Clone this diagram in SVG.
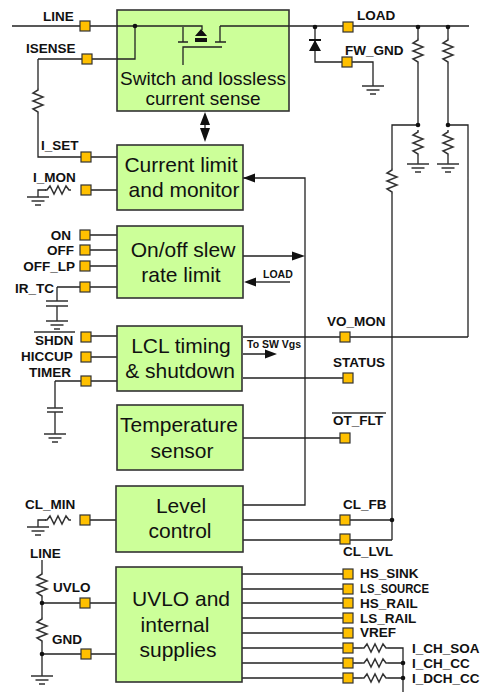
<svg xmlns="http://www.w3.org/2000/svg" width="483" height="692" viewBox="0 0 483 692">
<style>
.b{fill:#ccff99;stroke:#333;stroke-width:1.6}
.t{fill:#ffc000;stroke:#333;stroke-width:1.2}
.w{fill:none;stroke:#222;stroke-width:1.3}
.g{fill:none;stroke:#333;stroke-width:1.5}
.l{font-family:"Liberation Sans",Arial,sans-serif;font-size:13.5px;font-weight:bold;fill:#111}
.s{font-family:"Liberation Sans",Arial,sans-serif;font-size:10.5px;font-weight:bold;fill:#111}
.n{font-family:"Liberation Sans",Arial,sans-serif;font-size:21px;fill:#111;text-anchor:middle}
.n2{font-size:19px}
.f{fill:#111}
.m{text-anchor:end}
</style>
<defs>
<polyline id="rv" class="g" points="0,0 0,2 -5,5 5,9 -5,13 5,17 -5,21 0,24 0,26"/>
<polyline id="rh" class="g" points="0,0 2,0 5,-4 9,4 13,-4 17,4 21,-4 24,0 26,0"/>
<g id="gnd" class="g"><path d="M-11,0H11M-6.500,4H6.500M-3,8H3"/></g>
</defs>
<rect width="483" height="692" fill="#fff"/>
<g id="connectors">
<path class="w" d="M12,26H117M289,26H469M38,59H117M38,59V88M38,114V157H117M91,190H117M46,190H38V197"/>
<path class="w" d="M315,27V62H373V86"/>
<path class="w" d="M418,27V38M418,64V125M418,156V164M448,27V38M448,64V125M448,156V164M392,168V125H418M448,125H468V337M392,194V540M243,178H305V505H243M243,520H392M243,540H392"/>
<path class="w" d="M85,235H117M85,250H117M85,266H117M57,287H117M57,287V301M57,306V321M86,336H117M86,357H117M55,381H117M55,381V408M55,412V434M243,256H292M243,337H468M243,378H348M243,438H345M243,354H265"/>
<path class="w" d="M42,560V572M42,598V617M42,603H116M42,643V676M42,654H116M90,520H116M46,520H38V527"/>
<path class="w" d="M242,574H348M242,589H348M242,603H348M242,618H348M242,633H348M242,648H362M242,663H362M242,678H362M388,648H403V692M388,663H403M388,678H403"/>
<path class="g" d="M290,282H254"/>
<path class="f" d="M243,178L255,173.500V182.500ZM305,256L292,251.500V260.500ZM244,282L256,277.500V286.500ZM277,354L265,349.500V358.500ZM205,112L210,125H200ZM205,142L200,128H210Z"/>
<path class="f" d="M315,40L321,51H309ZM309,39H321V41H309Z"/>
<path class="w" d="M205,125V128"/>
<use href="#rv" x="38" y="88"/><use href="#rv" x="418" y="38"/><use href="#rv" x="448" y="38"/>
<use href="#rv" x="418" y="130"/><use href="#rv" x="448" y="130"/><use href="#rv" x="392" y="168"/>
<use href="#rv" x="42" y="572"/><use href="#rv" x="42" y="617"/>
<use href="#rh" x="45" y="190"/><use href="#rh" x="45" y="520"/>
<use href="#rh" x="362" y="648"/><use href="#rh" x="362" y="663"/><use href="#rh" x="362" y="678"/>
<use href="#gnd" x="38" y="197"/><use href="#gnd" x="373" y="86"/><use href="#gnd" x="418" y="164"/><use href="#gnd" x="448" y="164"/>
<use href="#gnd" x="57" y="321"/><use href="#gnd" x="55" y="434"/><use href="#gnd" x="38" y="527"/><use href="#gnd" x="42" y="676"/>
<path class="g" d="M46,301H68M46,306H68M47,408H63M47,412H63"/>
<circle class="f" cx="315" cy="27" r="2.300"/><circle class="f" cx="418" cy="27" r="2.300"/><circle class="f" cx="448" cy="27" r="2.300"/>
<circle class="f" cx="418" cy="125" r="2.300"/><circle class="f" cx="448" cy="125" r="2.300"/><circle class="f" cx="392" cy="520" r="2.300"/>
<circle class="f" cx="42" cy="603" r="2.300"/><circle class="f" cx="42" cy="654" r="2.300"/><circle class="f" cx="403" cy="663" r="2.300"/><circle class="f" cx="403" cy="678" r="2.300"/>
</g>
<g id="switch"><rect class="b" x="117" y="10" width="172" height="101"/>
<path class="w" d="M117,26H202V30M220,26H289M220,26V42M215,42H226M183,27V42M178,42H188M183,65V47H222M135,26V59H117"/>
<path class="f" d="M195,36L201,29L207,36ZM195,38H207V42H195Z"/>
<circle class="f" cx="135" cy="26" r="2.300"/>
<text class="n n2" x="203" y="85">Switch and lossless</text><text class="n n2" x="203" y="105">current sense</text></g>
<g id="current-limit"><rect class="b" x="117" y="145" width="126" height="65"/><text class="n" x="181" y="172">Current limit</text><text class="n" x="184" y="197">and monitor</text></g>
<g id="slew"><rect class="b" x="117" y="226" width="126" height="72"/><text class="n" x="183" y="257">On/off slew</text><text class="n" x="181" y="282">rate limit</text></g>
<g id="lcl"><rect class="b" x="117" y="326" width="125" height="65"/><text class="n" x="181" y="353">LCL timing</text><text class="n" x="180" y="378">&amp; shutdown</text></g>
<g id="temp"><rect class="b" x="117" y="405" width="126" height="65"/><text class="n" x="179" y="432">Temperature</text><text class="n" x="182" y="458">sensor</text></g>
<g id="level"><rect class="b" x="116" y="486" width="127" height="66"/><text class="n" x="181" y="513">Level</text><text class="n" x="180" y="538">control</text></g>
<g id="uvlo"><rect class="b" x="116" y="567" width="126" height="115"/><text class="n" x="181" y="606">UVLO and</text><text class="n" x="175" y="632">internal</text><text class="n" x="178" y="657">supplies</text></g>
<g id="terminals">
<rect class="t" x="80" y="21" width="10" height="10"/><rect class="t" x="82" y="54" width="10" height="10"/><rect class="t" x="81" y="152" width="10" height="10"/><rect class="t" x="81" y="185" width="10" height="10"/>
<rect class="t" x="80" y="230" width="10" height="10"/><rect class="t" x="80" y="245" width="10" height="10"/><rect class="t" x="80" y="261" width="10" height="10"/><rect class="t" x="80" y="282" width="10" height="10"/>
<rect class="t" x="81" y="332" width="10" height="10"/><rect class="t" x="81" y="352" width="10" height="10"/><rect class="t" x="81" y="376" width="10" height="10"/>
<rect class="t" x="343" y="22" width="10" height="10"/><rect class="t" x="342" y="57" width="10" height="10"/><rect class="t" x="340" y="332" width="10" height="10"/><rect class="t" x="343" y="373" width="10" height="10"/><rect class="t" x="340" y="433" width="10" height="10"/>
<rect class="t" x="80" y="515" width="10" height="10"/><rect class="t" x="80" y="598" width="10" height="10"/><rect class="t" x="81" y="649" width="10" height="10"/>
<rect class="t" x="340" y="515" width="10" height="10"/><rect class="t" x="340" y="534" width="10" height="10"/>
<rect class="t" x="343" y="569" width="10" height="10"/><rect class="t" x="343" y="584" width="10" height="10"/><rect class="t" x="343" y="598" width="10" height="10"/><rect class="t" x="343" y="613" width="10" height="10"/><rect class="t" x="343" y="628" width="10" height="10"/><rect class="t" x="343" y="643" width="10" height="10"/><rect class="t" x="343" y="658" width="10" height="10"/><rect class="t" x="343" y="673" width="10" height="10"/>
</g>
<g id="labels">
<text class="l" x="43" y="21">LINE</text><text class="l" x="26" y="53">ISENSE</text><text class="l" x="41" y="150">I_SET</text><text class="l" x="33" y="182">I_MON</text>
<text class="l m" x="71" y="240">ON</text><text class="l m" x="74" y="255">OFF</text><text class="l m" x="75" y="271">OFF_LP</text><text class="l" x="15" y="293">IR_TC</text>
<text class="l" x="35" y="345">SHDN</text><path class="g" d="M34,332H75"/><text class="l" x="21" y="361">HICCUP</text><text class="l" x="29" y="377">TIMER</text>
<text class="l" x="357" y="20">LOAD</text><text class="l" x="345" y="55">FW_GND</text>
<text class="s" x="263" y="278">LOAD</text><text class="s" x="247" y="348">To SW Vgs</text>
<text class="l" x="327" y="326">VO_MON</text><text class="l" x="333" y="367">STATUS</text><text class="l" x="333" y="425">OT_FLT</text><path class="g" d="M332,413H386"/>
<text class="l" x="25" y="509">CL_MIN</text><text class="l" x="30" y="558">LINE</text><text class="l" x="53" y="592">UVLO</text><text class="l" x="52" y="644">GND</text>
<text class="l" x="343" y="509">CL_FB</text><text class="l" x="343" y="556">CL_LVL</text>
<text class="l" x="360" y="578">HS_SINK</text><text class="l" x="360" y="593" textLength="69" lengthAdjust="spacingAndGlyphs">LS_SOURCE</text><text class="l" x="360" y="608">HS_RAIL</text><text class="l" x="360" y="623">LS_RAIL</text><text class="l" x="360" y="637">VREF</text>
<text class="l" x="412" y="653">I_CH_SOA</text><text class="l" x="412" y="668">I_CH_CC</text><text class="l" x="412" y="683">I_DCH_CC</text>
</g>
</svg>
